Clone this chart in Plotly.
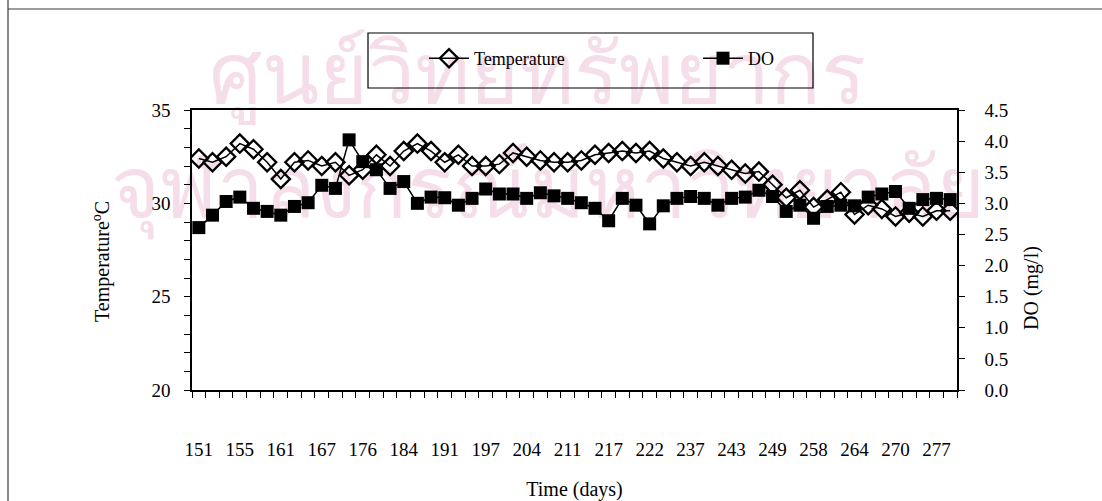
import plotly.graph_objects as go

# Sampling days shown on the x axis (one label every third sample)
day_labels = ["151", "155", "161", "167", "176", "184", "191", "197", "204", "211",
              "217", "222", "237", "243", "249", "258", "264", "270", "277"]

# Water temperature (deg C), one value per sample
temperature = [32.4, 32.2, 32.5, 33.2, 32.9, 32.2, 31.3, 32.2, 32.3, 32.0,
               32.2, 31.5, 31.8, 32.6, 32.0, 32.8, 33.2, 32.8, 32.2, 32.6,
               32.0, 32.0, 32.1, 32.7, 32.5, 32.3, 32.2, 32.2, 32.3, 32.6,
               32.7, 32.8, 32.7, 32.8, 32.4, 32.2, 32.0, 32.2, 32.0, 31.8,
               31.6, 31.7, 31.0, 30.3, 30.7, 29.8, 30.2, 30.6, 29.4, 29.9,
               29.7, 29.3, 29.5, 29.3, 29.6, 29.6]

# Dissolved oxygen (mg/l), one value per sample
dissolved_oxygen = [2.61, 2.81, 3.03, 3.10, 2.92, 2.87, 2.81, 2.95, 3.01, 3.29,
                    3.24, 4.02, 3.67, 3.54, 3.24, 3.35, 3.00, 3.10, 3.09, 2.97,
                    3.08, 3.23, 3.15, 3.15, 3.08, 3.17, 3.12, 3.08, 3.01, 2.92,
                    2.72, 3.08, 2.97, 2.67, 2.96, 3.08, 3.11, 3.08, 2.97, 3.08,
                    3.10, 3.21, 3.11, 2.87, 2.97, 2.76, 2.95, 2.97, 2.96, 3.10,
                    3.15, 3.19, 2.92, 3.06, 3.08, 3.06]

# library stamp printed faintly across the page
watermark_lines = ["ศูนย์วิทยทรัพยากร", "จุฬาลงกรณ์มหาวิทยาลัย"]

sample = list(range(len(temperature)))
label_every = 3

W, H = 1102, 501
ML, MR, MT, MB = 192, 145, 110, 111
PW, PH = W - ML - MR, H - MT - MB


def px_x(p):
    return (p - ML) / PW


def px_y(p):
    return (H - MB - p) / PH


FONT = "Liberation Serif"
INK = "black"
FRAME = "#3a3a3a"
STAMP = "rgb(245,222,233)"

fig = go.Figure()

fig.add_trace(go.Scatter(
    x=sample, y=temperature, name="Temperature", mode="lines+markers",
    line=dict(color=INK, width=1.5),
    marker=dict(symbol="diamond-open", size=14, color=INK, line=dict(width=2.3, color=INK)),
    yaxis="y"))

fig.add_trace(go.Scatter(
    x=sample, y=dissolved_oxygen, name="DO", mode="lines+markers",
    line=dict(color=INK, width=1.5),
    marker=dict(symbol="square", size=13, color=INK, line=dict(width=0)),
    yaxis="y2"))


def stamp(text, cx, cy, w, h):
    # transparent box carrying a large label, drawn under the data
    return dict(type="rect", xref="paper", yref="paper", layer="below",
                x0=px_x(cx - w / 2), x1=px_x(cx + w / 2),
                y0=px_y(cy + h / 2), y1=px_y(cy - h / 2),
                line=dict(width=0), fillcolor="rgba(0,0,0,0)",
                label=dict(text=text, textposition="middle center",
                           font=dict(family="Noto Sans, sans-serif", size=84, color=STAMP)))


fig.update_layout(
    width=W, height=H, autosize=False,
    margin=dict(l=ML, r=MR, t=MT, b=MB, pad=0),
    paper_bgcolor="white", plot_bgcolor="rgba(0,0,0,0)",
    font=dict(family=FONT, size=19, color=INK),
    showlegend=True,
    legend=dict(orientation="h", x=px_x(424), y=px_y(40), xanchor="left", yanchor="top",
                bgcolor="rgba(0,0,0,0)", borderwidth=0,
                font=dict(family=FONT, size=18, color=INK),
                entrywidth=219, entrywidthmode="pixels", itemwidth=40),
    xaxis=dict(
        range=[-0.5, len(sample) - 0.5], showgrid=False, zeroline=False,
        showline=True, linecolor=INK, linewidth=1.5, mirror=True, automargin=False,
        tickmode="array", tickvals=sample[::label_every], ticktext=day_labels,
        ticks="", ticklabelstandoff=41, tickfont=dict(size=19),
        minor=dict(ticks="outside", tick0=-0.5, dtick=1, ticklen=6,
                   tickcolor=INK, tickwidth=1.2, showgrid=False),
        title=dict(text="Time (days)", standoff=25, font=dict(size=20)),
    ),
    yaxis=dict(
        range=[20, 35], dtick=5, showgrid=False, zeroline=False, automargin=False,
        showline=True, linecolor=INK, linewidth=1.5,
        ticks="outside", ticklen=6, tickwidth=1.2, tickcolor=INK,
        minor=dict(ticks="outside", dtick=1, ticklen=6, tickwidth=1.2,
                   tickcolor=INK, showgrid=False),
        ticklabelstandoff=10,
    ),
    yaxis2=dict(
        range=[0, 4.5], dtick=0.5, tickformat=".1f", overlaying="y", side="right",
        showgrid=False, zeroline=False, automargin=False,
        showline=True, linecolor=INK, linewidth=1.5,
        ticks="outside", ticklen=6, tickwidth=1.2, tickcolor=INK,
        ticklabelstandoff=16,
    ),
    annotations=[
        dict(text="Temperature<sup>o</sup>C", textangle=-90, showarrow=False,
             xref="paper", yref="paper", x=px_x(101), y=px_y(262),
             xanchor="center", yanchor="middle", font=dict(size=20)),
        dict(text="DO (mg/l)", textangle=-90, showarrow=False,
             xref="paper", yref="paper", x=px_x(1031), y=px_y(288),
             xanchor="center", yanchor="middle", font=dict(size=20)),
    ],
    shapes=[
        stamp(watermark_lines[0], 537, 76, 700, 90),
        stamp(watermark_lines[1], 548, 190, 900, 90),
        # legend frame
        dict(type="rect", xref="paper", yref="paper",
             x0=px_x(368), x1=px_x(813), y0=px_y(88), y1=px_y(33),
             line=dict(color=INK, width=1.2), fillcolor="rgba(0,0,0,0)", layer="above"),
        # page frame lines
        dict(type="line", xref="paper", yref="paper",
             x0=px_x(8), x1=px_x(W + 20), y0=px_y(9), y1=px_y(9),
             line=dict(color=FRAME, width=1.2)),
        dict(type="line", xref="paper", yref="paper",
             x0=px_x(8), x1=px_x(8), y0=px_y(-2), y1=px_y(H + 2),
             line=dict(color=FRAME, width=1.2)),
    ],
)

fig.write_html("out.html")
